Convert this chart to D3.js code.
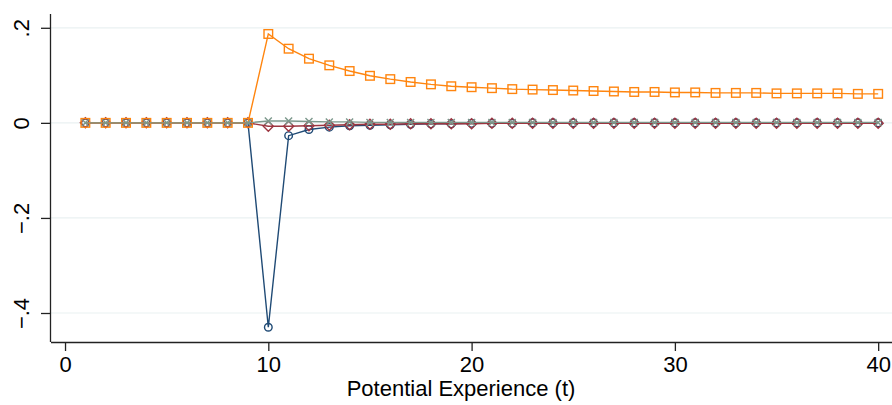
<!DOCTYPE html>
<html><head><meta charset="utf-8">
<script src="https://cdn.jsdelivr.net/npm/d3@7"></script>
<style>body{margin:0;background:#fff;} svg{display:block;}</style>
</head><body>
<svg id="c" width="892" height="405"></svg>
<script>
const years = d3.range(1, 41);
const xTicks = [0, 10, 20, 30, 40];
const yTicks = [0.2, 0, -0.2, -0.4];
const yTickLabels = [".2", "0", "\u2212.2", "\u2212.4"];
const zeros9 = [0,0,0,0,0,0,0,0,0];
const seriesBlue = zeros9.concat([-0.43,-0.027,-0.014,-0.009,-0.006,-0.005,-0.004,-0.003,-0.002,-0.002,-0.001,-0.001,-0.001,0,0,0,0,0,0,0,0,0,0,0,0,0,0,0,0,0,0]);
const seriesRed = zeros9.concat([-0.007,-0.007,-0.006,-0.005,-0.004,-0.003,-0.003,-0.002,-0.002,-0.002,-0.002,-0.001,-0.001,-0.001,-0.001,-0.001,-0.001,-0.001,-0.001,-0.001,-0.001,-0.001,-0.001,-0.001,-0.001,-0.001,-0.001,-0.001,-0.001,-0.001,-0.001]);
const seriesGreen = zeros9.concat([0.004,0.004,0.003,0.002,0.002,0.001,0.001,0.001,0.001,0.001,0.001,0.001,0.001,0.001,0.001,0.001,0.001,0.001,0.001,0.001,0.001,0.001,0.001,0.001,0.001,0.001,0.001,0.001,0.001,0.001,0.001]);
const seriesOrange = zeros9.concat([0.187,0.156,0.135,0.121,0.109,0.099,0.092,0.086,0.081,0.077,0.075,0.073,0.071,0.070,0.069,0.068,0.067,0.066,0.065,0.065,0.064,0.064,0.063,0.063,0.063,0.062,0.062,0.062,0.062,0.061,0.061]);

const svg = d3.select("#c");
const L = 51, R = 892, T = 14, B = 342;
const x = d3.scaleLinear().domain([-0.69, 40.68]).range([L, R]);
const y = d3.scaleLinear().domain([-0.461, 0.229]).range([B, T]);
const font = "'Liberation Sans', Arial, Helvetica, sans-serif";

// gridlines
svg.append("g").selectAll("line").data(yTicks).join("line")
  .attr("x1", L).attr("x2", R).attr("y1", d => y(d)).attr("y2", d => y(d))
  .attr("stroke", "#eaf1f2").attr("stroke-width", 1.2);

// axes
const ax = svg.append("g").attr("transform", `translate(0,${B})`)
  .call(d3.axisBottom(x).tickValues(xTicks).tickSize(9).tickFormat(d3.format("d")));
ax.select(".domain").attr("d", `M${L},0.5H${R}`).attr("stroke", "#222").attr("stroke-width", 1.3);
ax.selectAll(".tick line").attr("stroke", "#222").attr("stroke-width", 1.3);
ax.selectAll(".tick text").attr("font-family", font).attr("font-size", 22).attr("fill", "#000")
  .attr("y", 30).attr("dy", null);

const ay = svg.append("g").attr("transform", `translate(${L},0)`)
  .call(d3.axisLeft(y).tickValues(yTicks).tickSize(10).tickFormat((d, i) => yTickLabels[i]));
ay.select(".domain").attr("d", `M-0.5,${T}V${B}`).attr("stroke", "#222").attr("stroke-width", 1.3);
ay.selectAll(".tick line").attr("stroke", "#222").attr("stroke-width", 1.3);
ay.selectAll(".tick text").attr("font-family", font).attr("font-size", 22).attr("fill", "#000")
  .attr("x", null).attr("dy", null).attr("text-anchor", "middle")
  .attr("transform", "translate(-22,0) rotate(-90)").attr("y", 0);

svg.append("text").attr("x", 461).attr("y", 396).attr("text-anchor", "middle")
  .attr("font-family", font).attr("font-size", 22).attr("fill", "#000").text("Potential Experience (t)");

const line = d3.line().x((d, i) => x(years[i])).y(d => y(d));
const series = [
  {vals: seriesBlue, color: "#1f4a75", shape: "circle"},
  {vals: seriesRed, color: "#9c3540", shape: "diamond"},
  {vals: seriesOrange, color: "#ff850f", shape: "square"},
  {vals: seriesGreen, color: "#7c988c", shape: "x"}
];
series.forEach(s => {
  const g = svg.append("g");
  g.append("path").attr("d", line(s.vals)).attr("fill", "none").attr("stroke", s.color).attr("stroke-width", 1.4);
  const m = g.selectAll("g.m").data(s.vals).join("g")
    .attr("transform", (d, i) => `translate(${x(years[i])},${y(d)})`);
  if (s.shape === "circle") m.append("circle").attr("r", 3.8).attr("fill", "none").attr("stroke", s.color).attr("stroke-width", 1.4);
  if (s.shape === "square") m.append("rect").attr("x", -4.3).attr("y", -4.3).attr("width", 8.6).attr("height", 8.6).attr("fill", "none").attr("stroke", s.color).attr("stroke-width", 1.4);
  if (s.shape === "diamond") m.append("path").attr("d", "M0,-5L5,0L0,5L-5,0Z").attr("fill", "none").attr("stroke", s.color).attr("stroke-width", 1.4);
  if (s.shape === "x") m.append("path").attr("d", "M-3.5,-3.5L3.5,3.5M-3.5,3.5L3.5,-3.5").attr("fill", "none").attr("stroke", s.color).attr("stroke-width", 1.4);
});
</script>
</body></html>
